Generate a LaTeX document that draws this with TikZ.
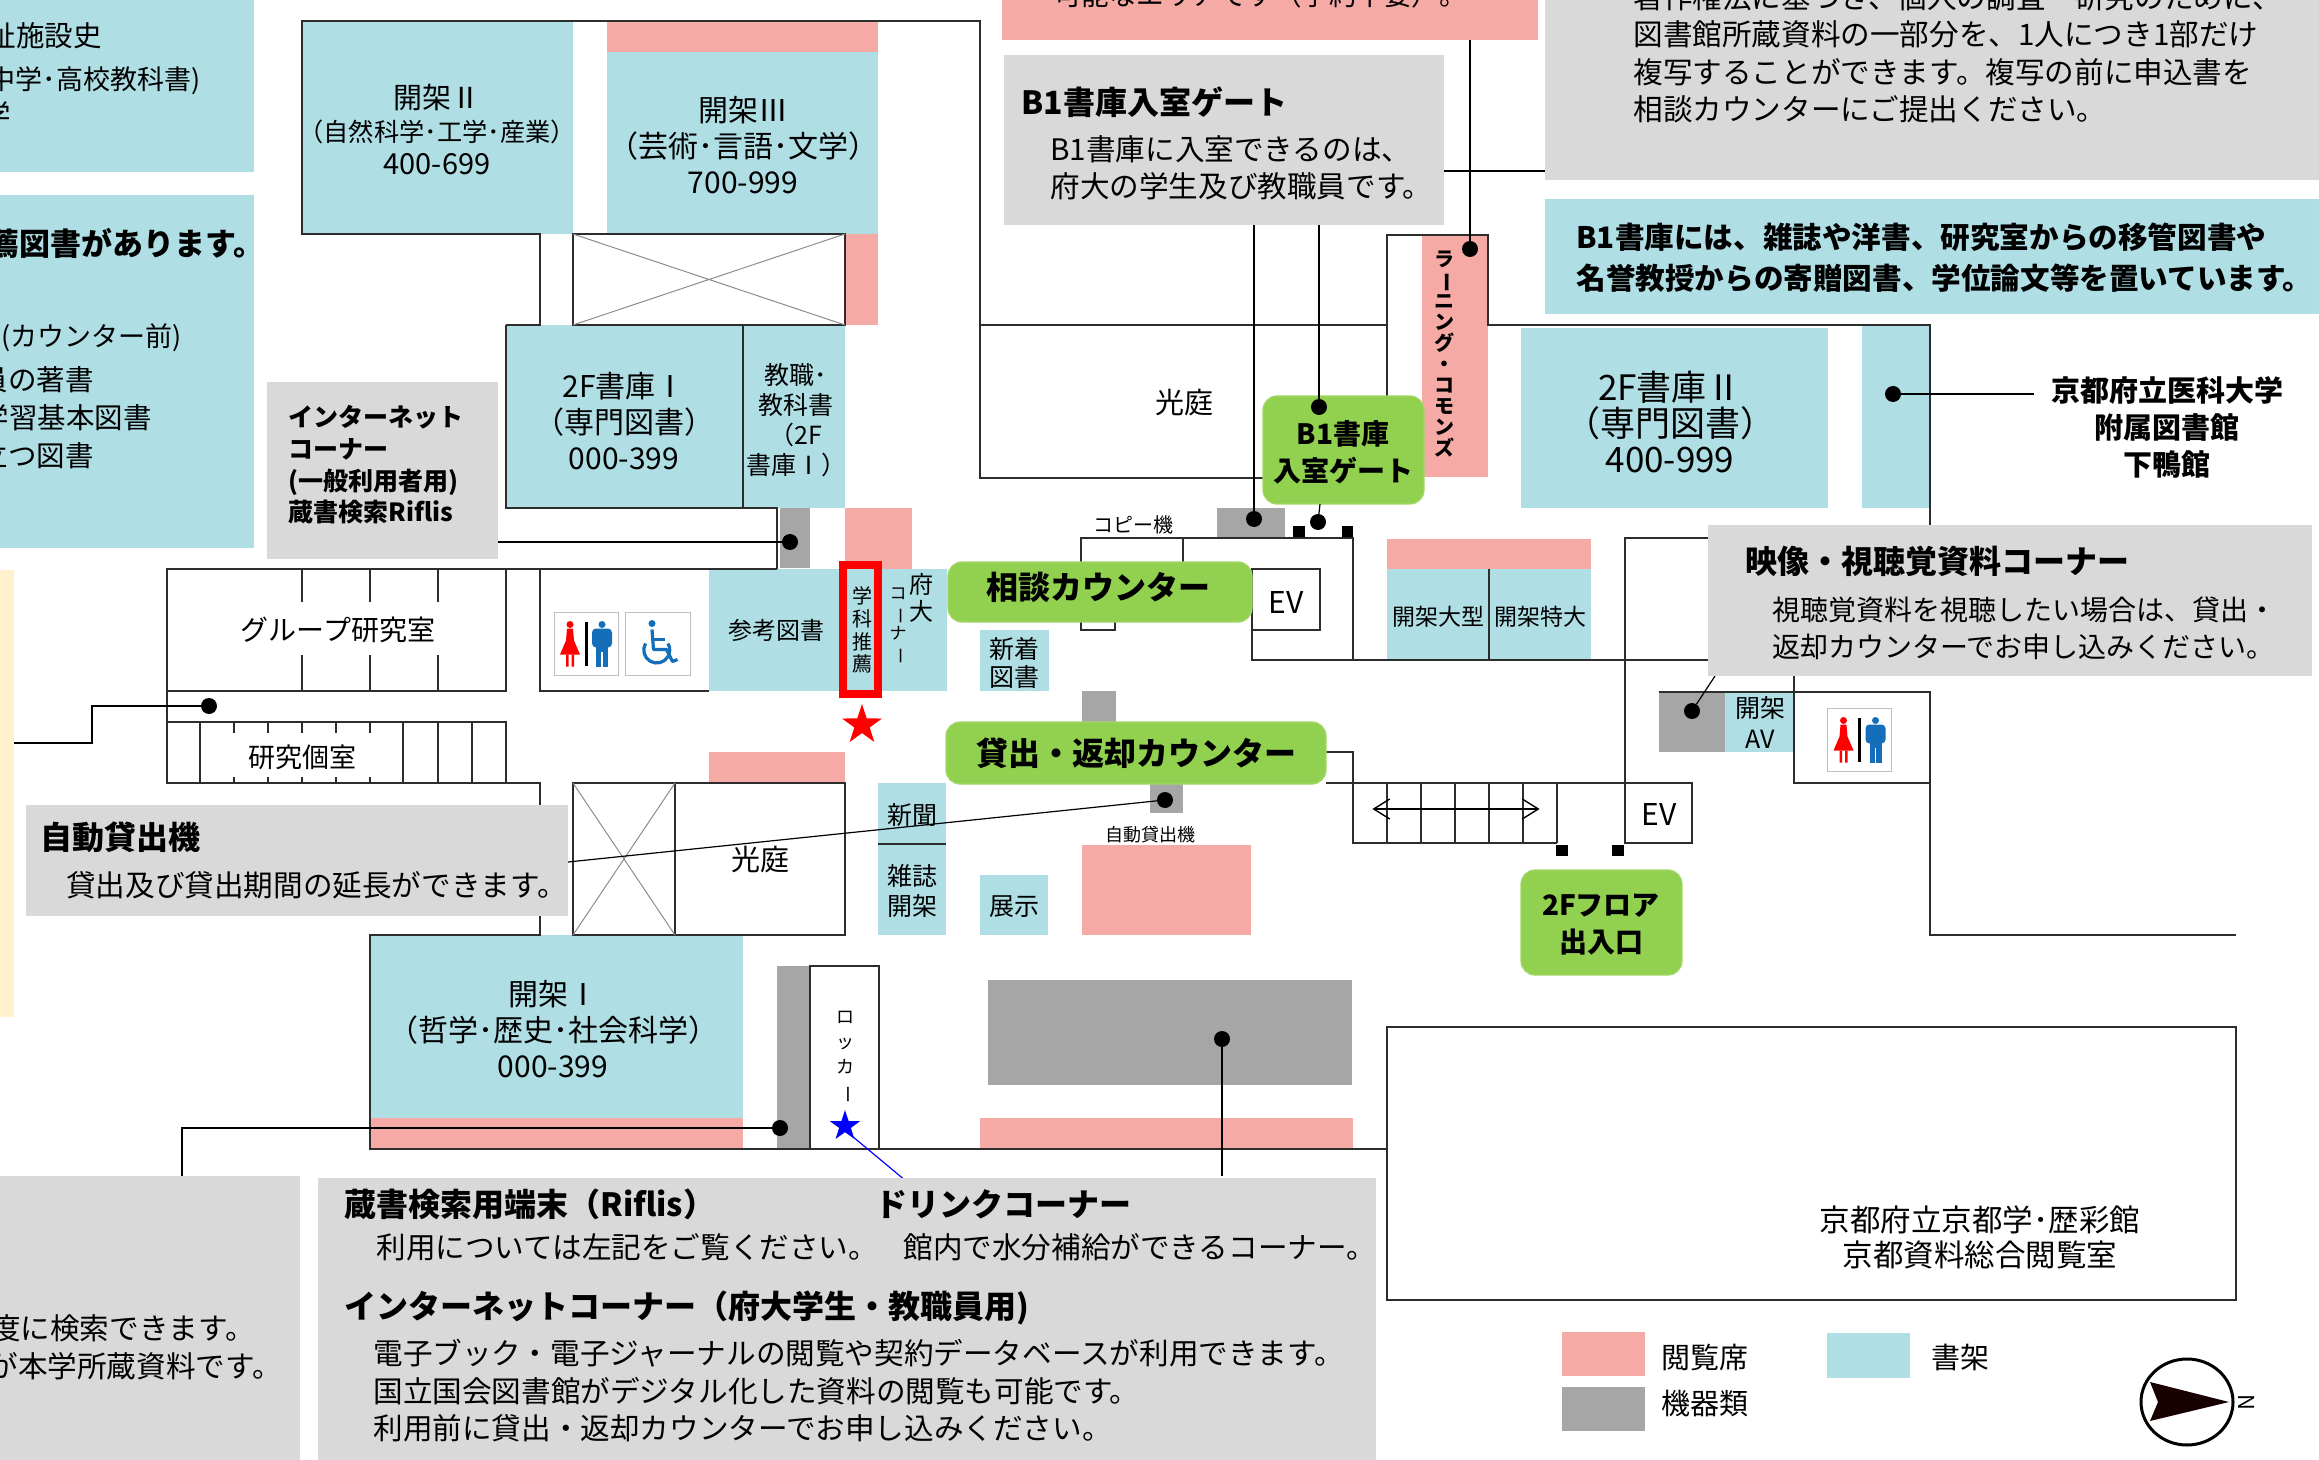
\documentclass[tikz,border=0pt]{standalone}
\usepackage{fontspec}
\usepackage{graphicx}
\setmainfont{Noto Sans CJK JP}
\usetikzlibrary{arrows.meta,fit,shapes.geometric}
\definecolor{shelfColor}{RGB}{175,222,228}
\definecolor{seatColor}{RGB}{246,170,166}
\definecolor{deviceColor}{RGB}{166,166,166}
\definecolor{infoColor}{RGB}{217,217,217}
\definecolor{counterColor}{RGB}{146,208,80}
\definecolor{sideColor}{RGB}{255,242,204}
\definecolor{wallColor}{RGB}{45,45,45}
\definecolor{manColor}{RGB}{20,110,185}
\newcommand{\tbar}{\rotatebox[origin=c]{-90}{ー}}
\tikzset{block/.style={inner sep=0pt, outer sep=0pt, draw=none}}
\tikzset{shelf/.style={block, fill=shelfColor}}
\tikzset{seat/.style={block, fill=seatColor}}
\tikzset{device/.style={block, fill=deviceColor}}
\tikzset{info/.style={block, fill=infoColor}}
\tikzset{side/.style={block, fill=sideColor}}
\tikzset{counter/.style={block, fill=counterColor, draw=counterColor!85!white, line width=.6pt, rounded corners=7pt}}
\tikzset{wall/.style={draw=wallColor, line width=1.1pt}}
\tikzset{thinwall/.style={draw=wallColor, line width=.7pt}}
\tikzset{crossline/.style={draw=black!45, line width=.5pt}}
\tikzset{lead/.style={draw=black, line width=.6pt}}
\tikzset{leaddot/.style={circle, fill=black, inner sep=0pt, outer sep=0pt, minimum size=8pt}}
\tikzset{doorpost/.style={block, fill=black}}
\tikzset{maplabel/.style={inner sep=0pt, align=center, font=\fontsize{14.5}{18}\selectfont}}
\tikzset{roomlabel/.style={maplabel, font=\fontsize{15}{18}\selectfont}}
\tikzset{smalllabel/.style={maplabel, font=\fontsize{12}{14.5}\selectfont}}
\tikzset{tinylabel/.style={maplabel, font=\fontsize{10}{12}\selectfont}}
\tikzset{note/.style={inner sep=0pt, align=left, anchor=west, font=\fontsize{14.8}{18.75}\selectfont}}
\tikzset{notecut/.style={note, anchor=east, align=right}}
\tikzset{heading/.style={inner sep=0pt, align=left, anchor=west, font=\bfseries\fontsize{16}{20}\selectfont}}
\tikzset{boldnote/.style={note, font=\bfseries\fontsize{14.8}{20.5}\selectfont}}
\tikzset{boldlabel/.style={maplabel, font=\bfseries\fontsize{14}{18.5}\selectfont}}
\tikzset{countertext/.style={maplabel, font=\bfseries\fontsize{16}{20}\selectfont}}
\tikzset{toiletsign/.pic={
		\draw [draw=black!25, line width=.5pt, fill=white] (-32,-31.5) rectangle (32,31.5);
		\fill [red] (-16,-19) circle [radius=3.5];
		\fill [red] (-19,-15) -- (-13,-15) -- (-12,-3) -- (-6,11) -- (-26,11) -- (-20,-3) -- cycle;
		\fill [red] (-20,11) rectangle (-17.5,23) (-14.5,11) rectangle (-12,23);
		\fill [black] (-1.5,-22) rectangle (1.5,22);
		\fill [manColor] (16,-19) circle [radius=3.5];
		\fill [manColor, rounded corners=2pt] (6,-15) rectangle (26,4);
		\fill [manColor] (10,-5) rectangle (22,23);
		\fill [white] (15.4,8) rectangle (16.6,23);
	}}
\tikzset{wheelsign/.pic={
		\draw [draw=black!25, line width=.5pt, fill=white] (-32.5,-31.5) rectangle (32.5,31.5);
		\fill [manColor] (-5.5,-20) circle [radius=3.5];
		\draw [draw=manColor, line width=1.6pt, line join=round] (-5.5,-14) -- (-4,6) -- (9,6) -- (15,18) -- (20,16);
		\draw [draw=manColor, line width=1.6pt] (-5,-4) -- (7,-4);
		\draw [draw=manColor, line width=1.6pt] (-12,0) arc [start angle=150, end angle=390, x radius=13, y radius=-13];
	}}

\begin{document}
\begin{tikzpicture}[x=.5pt, y=-.5pt]
	\useasboundingbox (0,0) rectangle (2319,1460);
	% Shelves, seats and devices
	\node (shelfcutone) [shelf, fit={(-2,-2) (254,172)}] {};
	\node (shelfcuttwo) [shelf, fit={(-2,195) (254,548)}] {};
	\node (sidepanel) [side, fit={(-2,570) (14,1017)}] {};
	
	\node (openb) [shelf, fit={(303,22) (573,234)}] {};
	\node (openc) [shelf, fit={(607,52) (878,234)}] {};
	\node (openctop) [seat, fit={(607,22) (878,52)}] {};
	\node (voidseat) [seat, fit={(845,234) (878,325)}] {};
	\node (stacka) [shelf, fit={(507,325) (845,508)}] {};
	\node (stackb) [shelf, fit={(1521,328) (1828,508)}] {};
	\node (stackc) [shelf, fit={(1862,326) (1930,508)}] {};
	\node (internetdev) [device, fit={(780,508) (810,568)}] {};
	\node (frontseat) [seat, fit={(845,508) (912,569)}] {};
	\node (reference) [shelf, fit={(709,569) (947,691)}] {};
	\node (newbooks) [shelf, fit={(980,630) (1049,691)}] {};
	\node (copydev) [device, fit={(1217,508) (1285,538)}] {};
	\node (countergap) [device, fit={(1082,691) (1116,722)}] {};
	\node (lenddev) [device, fit={(1150,784) (1183,813)}] {};
	\node (learning) [seat, fit={(1422,235) (1488,477)}] {};
	\node (largetop) [seat, fit={(1387,539) (1591,569)}] {};
	\node (large) [shelf, fit={(1387,569) (1591,660)}] {};
	\node (avdev) [device, fit={(1659,692) (1725,752)}] {};
	\node (avshelf) [shelf, fit={(1725,692) (1794,752)}] {};
	\node (voidtop) [seat, fit={(709,752) (845,783)}] {};
	\node (news) [shelf, fit={(878,783) (946,935)}] {};
	\node (display) [shelf, fit={(980,875) (1048,935)}] {};
	\node (lendseat) [seat, fit={(1082,845) (1251,935)}] {};
	\node (opena) [shelf, fit={(370,935) (743,1118)}] {};
	\node (openaseat) [seat, fit={(370,1118) (743,1148)}] {};
	\node (lockerdev) [device, fit={(777,966) (810,1149)}] {};
	\node (printdev) [device, fit={(988,980) (1352,1085)}] {};
	\node (printseat) [seat, fit={(980,1118) (1353,1148)}] {};
	\node (doorone) [doorpost, fit={(1293,526) (1305,538)}] {};
	\node (doortwo) [doorpost, fit={(1342,526) (1353,538)}] {};
	\node (doorthree) [doorpost, fit={(1556,845) (1568,856)}] {};
	\node (doorfour) [doorpost, fit={(1612,845) (1624,856)}] {};
	
	% Walls
	\draw [wall] (506,325) -- (540,325) -- (540,234) -- (302,234) -- (302,21) -- (980,21) -- (980,478) -- (1263,478);
	\draw [wall] (980,325) -- (1387,325);
	\draw [wall] (1387,397) -- (1387,235) -- (1488,235) -- (1488,325) -- (1930,325) -- (1930,600);
	\draw [wall] (573,325) rectangle (845,234);
	\draw [crossline] (573,234) -- (845,325) (573,325) -- (845,234);
	\draw [wall] (506,325) -- (506,508) -- (777,508) -- (777,569);
	\draw [thinwall] (743,325) -- (743,508);
	\draw [wall] (167,569) rectangle (506,691);
	\draw [wall] (777,569) -- (506,569);
	\draw [wall] (540,569) -- (540,691) -- (709,691);
	\foreach \xpos in {302,370,438}{
		\draw [thinwall] (\xpos,569) -- (\xpos,602) (\xpos,655) -- (\xpos,691);
	}
	\draw [wall] (167,691) -- (167,783) -- (540,783) -- (540,935) -- (370,935) -- (370,1149) -- (1387,1149);
	\draw [wall] (167,722) -- (506,722) -- (506,783);
	\foreach \xpos in {200,403,438,472}{
		\draw [thinwall] (\xpos,722) -- (\xpos,783);
	}
	\foreach \xpos in {234,268,302,336,370}{
		\draw [thinwall] (\xpos,722) -- (\xpos,733) (\xpos,777) -- (\xpos,783);
	}
	\draw [wall] (573,783) rectangle (845,935);
	\draw [thinwall] (675,783) -- (675,935);
	\draw [crossline] (573,783) -- (675,935) (573,935) -- (675,783);
	\draw [thinwall] (878,844) -- (946,844);
	\draw [wall] (1081,562) -- (1081,538) -- (1353,538) -- (1353,660);
	\draw [thinwall] (1183,538) -- (1183,562);
	\draw [thinwall] (1081,622) -- (1081,630) -- (1115,630) -- (1115,622);
	\draw [wall] (1252,569) rectangle (1320,630);
	\draw [wall] (1252,622) -- (1252,660) -- (1794,660) -- (1794,783) -- (1930,783);
	\draw [thinwall] (1489,569) -- (1489,660);
	\draw [wall] (1708,538) -- (1625,538) -- (1625,843) -- (1692,843) -- (1692,783) -- (1326,783);
	\draw [wall] (1326,752) -- (1353,752) -- (1353,843) -- (1557,843);
	\foreach \xpos in {1387,1421,1455,1489,1523,1557}{
		\draw [thinwall] (\xpos,783) -- (\xpos,843);
	}
	\node (arrowleft) [inner sep=0pt] at (1371,809) {};
	\node (arrowright) [inner sep=0pt] at (1541,809) {};
	\draw [line width=.7pt, {Straight Barb[length=8pt,width=10pt]}-{Straight Barb[length=8pt,width=10pt]}] (arrowleft) -- (arrowright);
	\draw [wall] (1659,692) -- (1930,692) -- (1930,935) -- (2236,935);
	\draw [wall] (1387,1027) rectangle (2236,1300);
	\draw [thinwall] (810,1149) -- (810,966) -- (879,966) -- (879,1149);
	
	% Signs
	\pic (toiletleft) at (586,643.5) {toiletsign};
	\pic (wheelchair) at (657.5,643.5) {wheelsign};
	\pic (toiletright) at (1859.5,739.5) {toiletsign};
	
	% Counters
	\node (consult) [counter, fit={(948,562) (1252,622)}] {};
	\node (lending) [counter, fit={(946,722) (1326,784)}] {};
	\node (gate) [counter, fit={(1263,396) (1424,504)}] {};
	\node (floorgate) [counter, fit={(1521,870) (1682,975)}] {};
	\node (recommend) [draw=red, line width=4pt, inner sep=0pt, outer sep=0pt, fit={(843,565) (878,694)}] {};
	\node (redstar) [star, star points=5, star point ratio=2.6, fill=red, inner sep=0pt, minimum size=21pt] at (862,725) {};
	
	% Connectors
	\node (dotcopy) [leaddot] at (1254,519) {};
	\node (dotgate) [leaddot] at (1319,407) {};
	\node (dotgatelow) [leaddot] at (1318,522) {};
	\node (dotlearning) [leaddot] at (1470,249) {};
	\node (dotmedical) [leaddot] at (1893,394) {};
	\node (dotstudy) [leaddot] at (209,706) {};
	\node (dotinternet) [leaddot] at (790,542) {};
	\node (dotlend) [leaddot] at (1165,800) {};
	\node (dotav) [leaddot] at (1692,711) {};
	\node (dotlocker) [leaddot] at (780,1128) {};
	\node (dotprint) [leaddot] at (1222,1039) {};
	\coordinate (gateinfocopy) at (1254,225);
	\coordinate (gateinfogate) at (1319,225);
	\coordinate (seattop) at (1470,40);
	\coordinate (gateinfoeast) at (1444,171);
	\coordinate (copyinfowest) at (1545,171);
	\coordinate (medicalend) at (2034,394);
	\coordinate (sideout) at (14,743);
	\coordinate (sidebend) at (92,743);
	\coordinate (sidebendup) at (92,706);
	\coordinate (lendinfoeast) at (568,862);
	\coordinate (avinfo) at (1715,676);
	\coordinate (gatelowend) at (1320,504);
	\coordinate (lockerbend) at (182,1128);
	\coordinate (lockerend) at (182,1176);
	\coordinate (printend) at (1222,1176);
	\coordinate (internetend) at (498,542);
	\coordinate (drinkstart) at (852,1136);
	\coordinate (drinkend) at (918,1191);
	\draw [lead] (gateinfocopy) -- (dotcopy);
	\draw [lead] (gateinfogate) -- (dotgate);
	\draw [lead] (gatelowend) -- (dotgatelow);
	\draw [lead] (seattop) -- (dotlearning);
	\draw [lead] (gateinfoeast) -- (copyinfowest);
	\draw [lead] (dotmedical) -- (medicalend);
	\draw [lead] (sideout) -- (sidebend) -- (sidebendup) -- (dotstudy);
	\draw [lead] (internetend) -- (dotinternet);
	\draw [lead] (lendinfoeast) -- (dotlend);
	\draw [lead] (avinfo) -- (dotav);
	\draw [lead] (dotlocker) -- (lockerbend) -- (lockerend);
	\draw [lead] (dotprint) -- (printend);
	\draw [draw=blue, line width=.6pt] (drinkstart) -- (drinkend);
	\node (bluestar) [star, star points=5, star point ratio=2.6, fill=blue, inner sep=0pt, minimum size=16pt] at (845,1126) {};
	
	% Info boxes
	\node (seatinfo) [seat, fit={(1002,-2) (1538,40)}] {};
	\node (gateinfo) [info, fit={(1004,55) (1444,225)}] {};
	\node (copyinfo) [info, fit={(1545,-2) (2321,180)}] {};
	\node (stacknote) [shelf, fit={(1545,199) (2321,314)}] {};
	\node (internetinfo) [info, fit={(267,382) (498,559)}] {};
	\node (lendinfo) [info, fit={(26,805) (568,916)}] {};
	\node (avinfobox) [info, fit={(1708,525) (2312,676)}] {};
	\node (searchinfo) [info, fit={(-2,1176) (300,1462)}] {};
	\node (cornerinfo) [info, fit={(318,1178) (1376,1462)}] {};
	\node (legendseat) [seat, fit={(1562,1332) (1645,1376)}] {};
	\node (legenddevice) [device, fit={(1562,1387) (1645,1431)}] {};
	\node (legendshelf) [shelf, fit={(1827,1333) (1910,1378)}] {};
	
	% Compass
	\node (compass) [draw=black, line width=1.5pt, ellipse, inner sep=0pt, minimum width=46pt, minimum height=43pt] at (2187,1402) {};
	\fill [black!90!red] (2229,1402) -- (2150,1382) -- (2158,1402) -- (2150,1421) -- cycle;
	\node (north) [rotate=-90, inner sep=0pt, font=\fontsize{11}{12}\selectfont] at (2247,1402) {N};
	
	% Labels
	\node (cuta) [notecut, font=\fontsize{14.25}{18}\selectfont] at (102,36) {福祉施設史};
	\node (cutb) [notecut, font=\fontsize{13.5}{18}\selectfont] at (201,81) {（中学･高校教科書)};
	\node (cutc) [notecut, font=\fontsize{14.25}{18}\selectfont] at (11,115) {学};
	\node (cutd) [notecut, font=\bfseries\fontsize{15.5}{18}\selectfont] at (265,243) {推薦図書があります。};
	\node (cute) [notecut, font=\fontsize{13.5}{18}\selectfont] at (182,338) {(カウンター前)};
	\node (cutf) [notecut, font=\fontsize{14.25}{18}\selectfont] at (94,380) {教員の著書};
	\node (cutg) [notecut, font=\fontsize{14.25}{18}\selectfont] at (152,418) {学習基本図書};
	\node (cuth) [notecut, font=\fontsize{14.25}{18}\selectfont] at (94,456) {役立つ図書};
	
	\node (openblabel) [maplabel, font=\fontsize{14.5}{16.5}\selectfont] at (437,130) {開架Ⅱ\\{\fontsize{12.6}{16.5}\selectfont （自然科学･工学･産業）}\\400-699};
	\node (openclabel) [roomlabel] at (743,145) {開架Ⅲ\\（芸術･言語･文学）\\700-999};
	\node (stackalabel) [roomlabel] at (624,421) {2F書庫Ⅰ\\（専門図書）\\000-399};
	\node (stafflabel) [smalllabel, font=\fontsize{12.5}{15}\selectfont] at (796,420) {教職･\\教科書\\（2F\\書庫Ⅰ）};
	\node (stackblabel) [roomlabel, font=\fontsize{17.5}{18}\selectfont] at (1670,422) {2F書庫Ⅱ\\（専門図書）\\400-999};
	\node (openalabel) [roomlabel] at (553,1029) {開架Ⅰ\\（哲学･歴史･社会科学）\\000-399};
	\node (courtupper) [maplabel] at (1184,403) {光庭};
	\node (courtlower) [maplabel] at (760,860) {光庭};
	\node (grouplabel) [maplabel, font=\fontsize{14}{18}\selectfont] at (338,630) {グループ研究室};
	\node (studylabel) [maplabel, font=\fontsize{13.5}{16}\selectfont] at (302,757) {研究個室};
	\node (referencelabel) [smalllabel] at (776,630) {参考図書};
	\node (recommendlabel) [tinylabel, font=\fontsize{10}{11.4}\selectfont] at (862,630) {学\\科\\推\\薦};
	\node (prefdai) [smalllabel, font=\fontsize{12}{13.5}\selectfont] at (921,598) {府\\大};
	\node (prefcorner) [tinylabel, font=\fontsize{8.5}{10}\selectfont] at (898,626) {コ\\\tbar\\ナ\\\tbar};
	\node (newlabel) [smalllabel, font=\fontsize{12.5}{14}\selectfont] at (1014,663) {新着\\図書};
	\node (newslabel) [smalllabel, font=\fontsize{12.5}{14}\selectfont] at (912,815) {新聞};
	\node (magazinelabel) [smalllabel, font=\fontsize{12.5}{15}\selectfont] at (912,891) {雑誌\\開架};
	\node (displaylabel) [smalllabel, font=\fontsize{12.5}{14}\selectfont] at (1014,907) {展示};
	\node (copylabel) [tinylabel] at (1133,525) {コピー機};
	\node (lendlabel) [tinylabel, font=\fontsize{9}{10}\selectfont] at (1150,835) {自動貸出機};
	\node (evone) [maplabel, font=\fontsize{15}{16}\selectfont] at (1286,603) {EV};
	\node (evtwo) [maplabel, font=\fontsize{15}{16}\selectfont] at (1659,815) {EV};
	\node (largelabel) [smalllabel, font=\fontsize{11.5}{14}\selectfont] at (1438,617) {開架大型};
	\node (speciallabel) [smalllabel, font=\fontsize{11.5}{14}\selectfont] at (1540,617) {開架特大};
	\node (avlabel) [smalllabel, font=\fontsize{12.5}{15.5}\selectfont] at (1760,723) {開架\\AV};
	\node (lockerlabel) [tinylabel, font=\fontsize{9}{12.5}\selectfont] at (845,1057) {ロ\\ッ\\カ\\\tbar};
	\node (learninglabel) [tinylabel, font=\bfseries\fontsize{10}{10.5}\selectfont] at (1444,354) {ラ\\\tbar\\ニ\\ン\\グ\\・\\コ\\モ\\ン\\ズ};
	\node (medicallabel) [boldlabel, font=\bfseries\fontsize{14.5}{18.5}\selectfont] at (2167,427) {京都府立医科大学\\附属図書館\\下鴨館};
	\node (archivelabel) [maplabel, font=\fontsize{15.25}{17.5}\selectfont] at (1980,1237) {京都府立京都学･歴彩館\\京都資料総合閲覧室};
	\node (legendseatlabel) [maplabel, font=\fontsize{14.5}{16}\selectfont] at (1705,1357) {閲覧席};
	\node (legenddevicelabel) [maplabel, font=\fontsize{14.5}{16}\selectfont] at (1705,1403) {機器類};
	\node (legendshelflabel) [maplabel, font=\fontsize{14.5}{16}\selectfont] at (1960,1357) {書架};
	
	\node (consultlabel) [countertext] at (1098,587) {相談カウンター};
	\node (lendinglabel) [countertext] at (1136,753) {貸出・返却カウンター};
	\node (gatelabel) [boldlabel] at (1343,452) {B1書庫\\入室ゲート};
	\node (floorlabel) [boldlabel] at (1601,925) {2Fフロア\\出入口};
	
	\node (seattext) [note, anchor=east, font=\fontsize{13.75}{18}\selectfont] at (1467,-5) {可能なエリアです（予約不要）。};
	\node (gatehead) [heading] at (1021,102) {B1書庫入室ゲート};
	\node (gatebody) [note] at (1050,168) {B1書庫に入室できるのは、\\府大の学生及び教職員です。};
	\node (copybody) [note] at (1633,53) {著作権法に基づき、個人の調査・研究のために、\\図書館所蔵資料の一部分を、1人につき1部だけ\\複写することができます。複写の前に申込書を\\相談カウンターにご提出ください。};
	\node (notebody) [boldnote] at (1576,258) {B1書庫には、雑誌や洋書、研究室からの移管図書や\\名誉教授からの寄贈図書、学位論文等を置いています。};
	\node (internettext) [note, font=\bfseries\fontsize{12.5}{15.8}\selectfont] at (288,465) {インターネット\\コーナー\\(一般利用者用)\\蔵書検索Riflis};
	\node (lendhead) [heading] at (40,837) {自動貸出機};
	\node (lendbody) [note] at (66,885) {貸出及び貸出期間の延長ができます。};
	\node (avhead) [heading] at (1745,561) {映像・視聴覚資料コーナー};
	\node (avbody) [note, font=\fontsize{14}{18.75}\selectfont] at (1772,628.5) {視聴覚資料を視聴したい場合は、貸出・\\返却カウンターでお申し込みください。};
	\node (searchlineone) [notecut] at (255,1328) {度に検索できます。};
	\node (searchlinetwo) [notecut] at (282,1366) {が本学所蔵資料です。};
	\node (riflishead) [heading] at (344,1204) {蔵書検索用端末（Riflis）};
	\node (riflisbody) [note] at (376,1247) {利用については左記をご覧ください。};
	\node (drinkhead) [heading] at (875,1204) {ドリンクコーナー};
	\node (drinkbody) [note] at (903,1247) {館内で水分補給ができるコーナー。};
	\node (pchead) [heading] at (344,1308) {インターネットコーナー（府大学生・教職員用)};
	\node (pcbody) [note] at (373,1391) {電子ブック・電子ジャーナルの閲覧や契約データベースが利用できます。\\国立国会図書館がデジタル化した資料の閲覧も可能です。\\利用前に貸出・返却カウンターでお申し込みください。};
\end{tikzpicture}
\end{document}
